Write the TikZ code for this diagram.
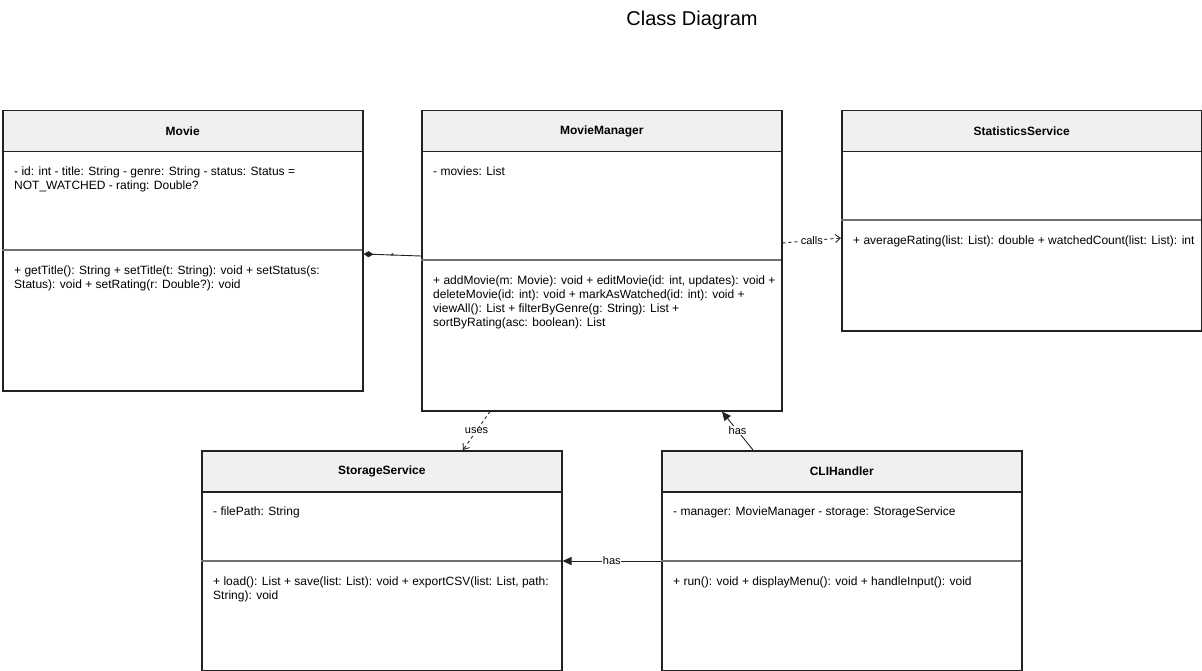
\documentclass[tikz,border=0pt]{standalone}
\usepackage{fontspec}
\setmainfont{Liberation Sans}
\usetikzlibrary{arrows.meta,calc,positioning}
\definecolor{headgray}{HTML}{F0F0F0}
\definecolor{edgegray}{HTML}{222222}
\definecolor{sepgray}{HTML}{707070}

\begin{document}
\begin{tikzpicture}[x=1pt,y=-1pt,
  classbox/.style={draw=edgegray,line width=1.5pt,fill=white,minimum width=360pt,anchor=north west,inner sep=0pt},
  headbox/.style={draw=edgegray,line width=1.5pt,fill=headgray,minimum width=360pt,minimum height=41pt,anchor=north west,inner sep=0pt,font=\bfseries\fontsize{12}{14}\selectfont},
  sepline/.style={draw=sepgray,line width=1.5pt},
  member/.style={anchor=north west,align=left,inner sep=0pt,font=\fontsize{12}{14}\selectfont},
  link/.style={draw=edgegray,line width=0.9pt},
  lbl/.style={fill=white,inner sep=0.5pt,font=\fontsize{11}{13}\selectfont}]
\useasboundingbox (0,0) rectangle (1202,671);

\node[font=\fontsize{20}{24}\selectfont] (title) at (692,20) {Class Diagram};

% Movie
\node[classbox,minimum height=280pt] (movie) at (2,110) {};
\node[headbox] (movie-h) at (movie.north west) {Movie};
\draw[sepline] ($(movie.north west)+(0,140)$) -- ++(360,0);
\node[member] (movie-a) at ($(movie.north west)+(12,57)$) {- id: int - title: String - genre: String - status: Status =\\NOT\_WATCHED - rating: Double?};
\node[member] (movie-m) at ($(movie.north west)+(12,156)$) {+ getTitle(): String + setTitle(t: String): void + setStatus(s:\\Status): void + setRating(r: Double?): void};

% MovieManager
\node[classbox,minimum height=300pt] (mgr) at (421,110) {};
\node[headbox] (mgr-h) at (mgr.north west) {MovieManager};
\draw[sepline] ($(mgr.north west)+(0,150)$) -- ++(360,0);
\node[member] (mgr-a) at ($(mgr.north west)+(12,57)$) {- movies: List};
\node[member] (mgr-m) at ($(mgr.north west)+(12,166)$) {+ addMovie(m: Movie): void + editMovie(id: int, updates): void +\\deleteMovie(id: int): void + markAsWatched(id: int): void +\\viewAll(): List + filterByGenre(g: String): List +\\sortByRating(asc: boolean): List};

% StatisticsService
\node[classbox,minimum height=220pt] (stats) at (841,110) {};
\node[headbox] (stats-h) at (stats.north west) {StatisticsService};
\draw[sepline] ($(stats.north west)+(0,110)$) -- ++(360,0);
\node[member] (stats-m) at ($(stats.north west)+(12,126)$) {+ averageRating(list: List): double + watchedCount(list: List): int};

% StorageService
\node[classbox,minimum height=220pt] (storage) at (201,450) {};
\node[headbox] (storage-h) at (storage.north west) {StorageService};
\draw[sepline] ($(storage.north west)+(0,111)$) -- ++(360,0);
\node[member] (storage-a) at ($(storage.north west)+(12,57)$) {- filePath: String};
\node[member] (storage-m) at ($(storage.north west)+(12,127)$) {+ load(): List + save(list: List): void + exportCSV(list: List, path:\\String): void};

% CLIHandler
\node[classbox,minimum height=220pt] (cli) at (661,450) {};
\node[headbox] (cli-h) at (cli.north west) {CLIHandler};
\draw[sepline] ($(cli.north west)+(0,111)$) -- ++(360,0);
\node[member] (cli-a) at ($(cli.north west)+(12,57)$) {- manager: MovieManager - storage: StorageService};
\node[member] (cli-m) at ($(cli.north west)+(12,127)$) {+ run(): void + displayMenu(): void + handleInput(): void};

% connector ends
\coordinate (mv-e) at ($(movie.north east)+(0,144)$);
\coordinate (mgr-w) at ($(mgr.north west)+(0,146)$);
\coordinate (mgr-e) at ($(mgr.north east)+(0,133)$);
\coordinate (stats-w) at ($(stats.north west)+(0,128)$);
\coordinate (mgr-s1) at ($(mgr.south west)+(69,0)$);
\coordinate (mgr-s2) at ($(mgr.south west)+(301,0)$);
\coordinate (storage-n) at ($(storage.north west)+(262,0)$);
\coordinate (storage-e) at ($(storage.north east)+(0,111)$);
\coordinate (cli-n) at ($(cli.north west)+(92,0)$);
\coordinate (cli-w) at ($(cli.north west)+(0,111)$);

\draw[link,{Diamond[length=10pt,width=6pt]}-] (mv-e) -- node[pos=0.5,yshift=-1pt,inner sep=0pt,font=\fontsize{9}{9}\selectfont] {*} (mgr-w);
\draw[link,dash pattern=on 3pt off 3pt,-{Straight Barb[length=5pt,width=8pt]}] (mgr-e) -- node[lbl] {calls} (stats-w);
\draw[link,dash pattern=on 3pt off 3pt,-{Straight Barb[length=5pt,width=8pt]}] (mgr-s1) -- node[lbl] {uses} (storage-n);
\draw[link,-{Triangle[length=9pt,width=8pt]}] (cli-n) -- node[lbl] {has} (mgr-s2);
\draw[link,-{Triangle[length=9pt,width=8pt]}] (cli-w) -- node[lbl] {has} (storage-e);
\end{tikzpicture}
\end{document}
